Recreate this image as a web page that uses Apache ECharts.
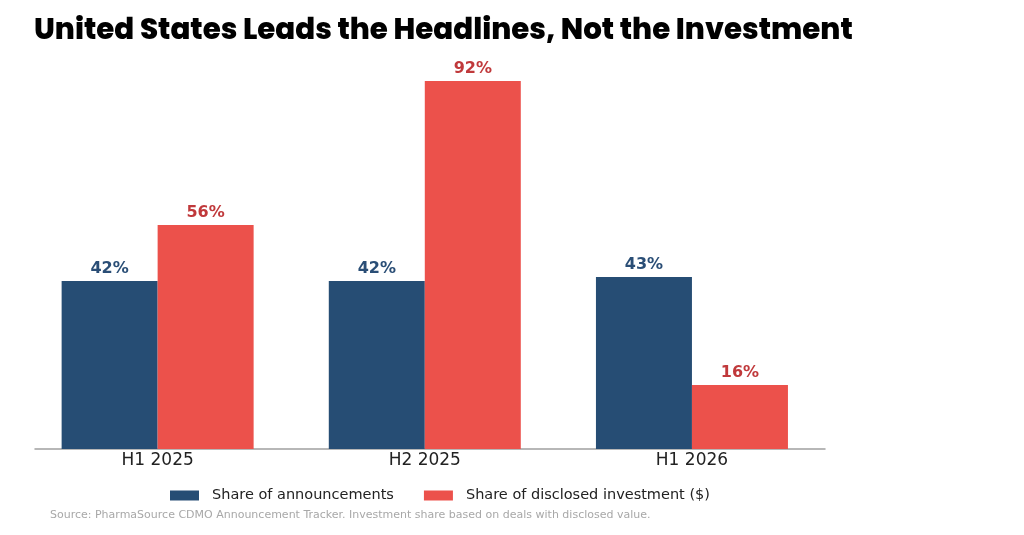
<!DOCTYPE html>
<html>
<head>
<meta charset="utf-8">
<style>html,body{margin:0;padding:0;background:#fff;}#c{width:1024px;height:535px;}</style>
<script src="https://cdn.jsdelivr.net/npm/echarts@6/dist/echarts.min.js"></script>
</head>
<body>
<div id="c"></div>
<script>
const categories = ['H1 2025', 'H2 2025', 'H1 2026'];
const announcements = [42, 42, 43];
const investment = [56, 92, 16];
const seriesNames = ['Share of announcements', 'Share of disclosed investment ($)'];
const titleText = 'United States Leads the Headlines, Not the Investment';
const sourceText = 'Source: PharmaSource CDMO Announcement Tracker. Investment share based on deals with disclosed value.';

const NAVY = '#264d74', RED = '#ec514b', NAVY_L = '#2a4e76', RED_L = '#c0393b';
const chart = echarts.init(document.getElementById('c'));
const lbl = (color) => ({show: true, position: 'top', distance: 4, formatter: p => p.value[1] + '%',
  color: color, fontFamily: 'DejaVu Sans', fontWeight: 'bold', fontSize: 16});
chart.setOption({
  animation: false,
  title: [
    {text: titleText, left: 29, top: 12, textStyle: {fontFamily: 'Poppins, Inter, sans-serif', fontWeight: 800, fontSize: 29.3, color: '#000'}},
    {text: sourceText, left: 45, top: 505, textStyle: {fontFamily: 'DejaVu Sans', fontWeight: 'normal', fontSize: 11, color: '#a8a8a8'}}
  ],
  legend: {
    data: seriesNames, left: 165, top: 483, itemWidth: 29, itemHeight: 10, itemGap: 30,
    icon: 'rect',
    textStyle: {fontFamily: 'DejaVu Sans', fontSize: 14.5, color: '#222', padding: [0, 0, 0, 8]}
  },
  grid: {left: 35, right: 199, top: 49, bottom: 86},
  xAxis: {
    type: 'value', min: -0.459, max: 2.498,
    splitLine: {show: false},
    axisLine: {show: true, lineStyle: {color: '#a0a0a0', width: 1.5}},
    axisTick: {show: false},
    axisLabel: {customValues: [0, 1, 2], formatter: v => categories[Math.round(v)] || '', margin: 3,
      fontFamily: 'DejaVu Sans', fontSize: 17, color: '#222'}
  },
  yAxis: {type: 'value', min: 0, max: 100, show: false, splitLine: {show: false}},
  series: [
    {name: seriesNames[0], type: 'bar', barWidth: 96, barGap: '0%',
      itemStyle: {color: NAVY}, label: lbl(NAVY_L),
      data: announcements.map((v, i) => [i, v])},
    {name: seriesNames[1], type: 'bar', barWidth: 96, barGap: '0%',
      itemStyle: {color: RED}, label: lbl(RED_L),
      data: investment.map((v, i) => [i, v])}
  ]
});
</script>
</body>
</html>
